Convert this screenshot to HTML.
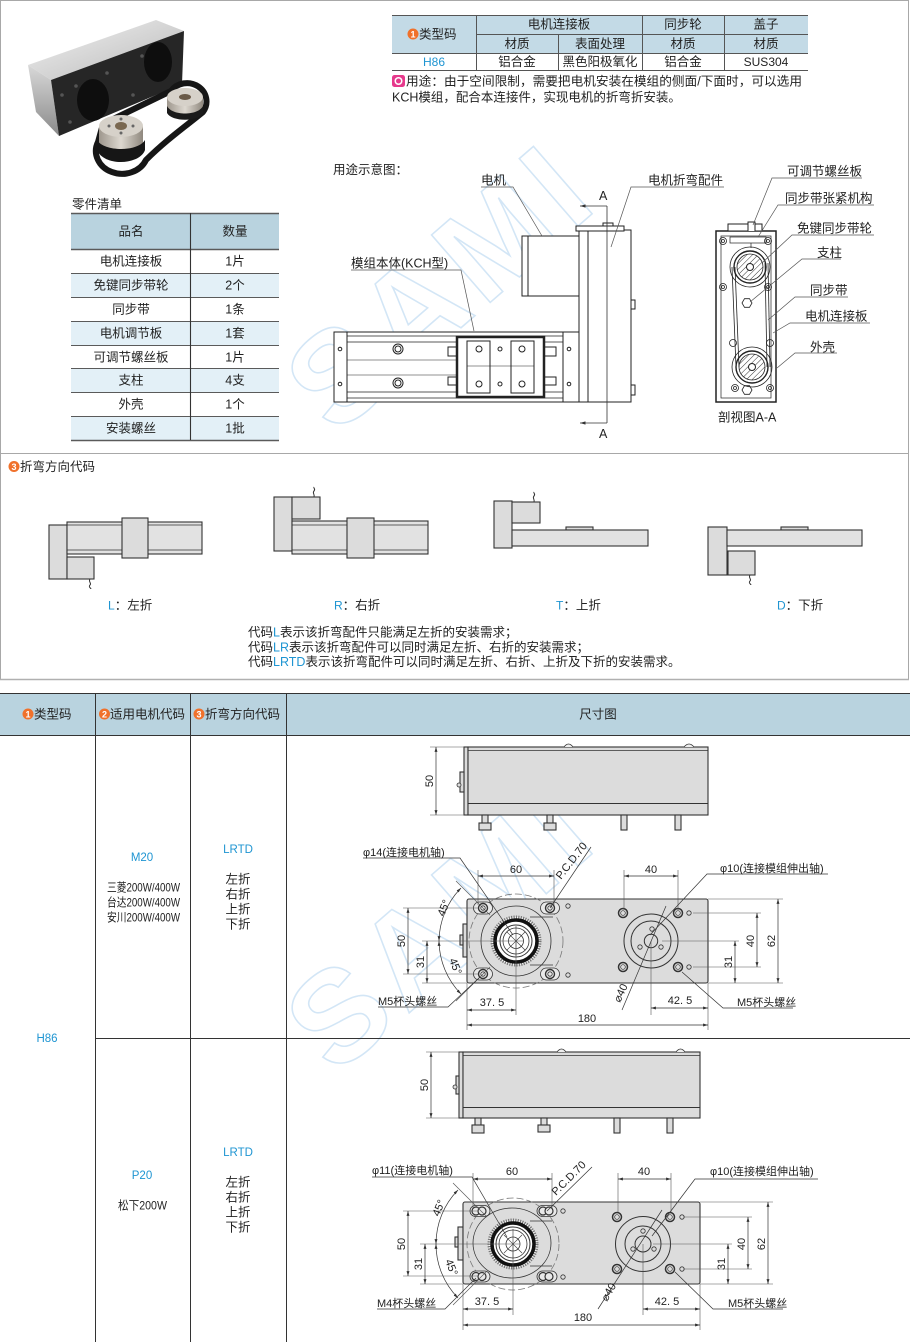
<!DOCTYPE html>
<html><head><meta charset="utf-8"><title>KCH</title>
<style>
html,body{margin:0;padding:0;background:#fff;width:910px;height:1342px;overflow:hidden}
svg{display:block}
text{font-family:"Liberation Sans","Noto Sans CJK SC",sans-serif;fill:#222}
.t{font-size:12.5px}
.d{font-size:11px}
.b{fill:#1f95d2}
.ln{stroke:#222;stroke-width:1;fill:none}
.dm{stroke:#333;stroke-width:.7;fill:none}
.ex{stroke:#555;stroke-width:.6;fill:none}
.g{fill:#dcdcdc;stroke:#333;stroke-width:1.1}
.gl{fill:#e2e2e2;stroke:#333;stroke-width:1.1}
.wm{fill:none;stroke:#d3e6f6;stroke-width:1.6;font-weight:bold;font-family:"Liberation Sans",sans-serif}
</style></head><body>
<svg width="910" height="1342" viewBox="0 0 910 1342" xmlns="http://www.w3.org/2000/svg">
<defs>
<marker id="ar" viewBox="0 0 10 10" refX="10" refY="5" markerWidth="7" markerHeight="7" orient="auto-start-reverse"><path d="M0,2 L10,5 L0,8z" fill="#333"/></marker>
<linearGradient id="gTop" x1="0" y1="0" x2="1" y2="1"><stop offset="0" stop-color="#f2f2f2"/><stop offset="1" stop-color="#b8b8b8"/></linearGradient>
<linearGradient id="gSide" x1="0" y1="0" x2="0" y2="1"><stop offset="0" stop-color="#d8d8d8"/><stop offset="1" stop-color="#8a8a8a"/></linearGradient>
<linearGradient id="gPul" x1="0" y1="0" x2="1" y2="0"><stop offset="0" stop-color="#9e978d"/><stop offset=".5" stop-color="#ddd8d0"/><stop offset="1" stop-color="#8f887e"/></linearGradient>
<pattern id="hatch" width="4" height="4" patternUnits="userSpaceOnUse" patternTransform="rotate(45)"><rect width="4" height="4" fill="#fff"/><line x1="0" y1="0" x2="0" y2="4" stroke="#333" stroke-width="1"/></pattern>
</defs>

<!-- watermarks -->
<text class="wm" font-size="130" text-anchor="middle" transform="translate(470,320) rotate(-41)" letter-spacing="8">SAMI</text>
<text class="wm" font-size="130" text-anchor="middle" transform="translate(470,960) rotate(-41)" letter-spacing="8">SAMI</text>

<!-- top frame -->
<rect x="0.5" y="0.5" width="908" height="679" fill="none" stroke="#a8a8a8"/>
<line x1="0" y1="453.5" x2="909" y2="453.5" stroke="#a8a8a8"/>
<line x1="0" y1="679.5" x2="909" y2="679.5" stroke="#b0b0b0" stroke-width="1.5"/>

<!-- product photo -->
<g>
<polygon points="28,65 156,20 184,31 51,80" fill="url(#gTop)"/>
<polygon points="28,65 51,80 59,136 36,112" fill="url(#gSide)"/>
<polygon points="51,80 184,31 182,84 59,136" fill="#262626"/>
<ellipse cx="93" cy="100" rx="16" ry="21" fill="#0e0e0e"/>
<ellipse cx="158" cy="62" rx="14" ry="20" fill="#0e0e0e"/>
<circle cx="62" cy="95" r="1.8" fill="#555"/><circle cx="70" cy="122" r="1.8" fill="#555"/>
<circle cx="107" cy="73" r="1.8" fill="#555"/><circle cx="133" cy="95" r="1.8" fill="#555"/>
<circle cx="76" cy="86" r="1.8" fill="#555"/><circle cx="142" cy="56" r="1.8" fill="#555"/>
<!-- belt loop -->
<path d="M103,124 L171,91 A18,17 0 0,1 203,112 C186,126 166,140 146,160 A24,21 0 0,1 98,142 Z" fill="none" stroke="#161616" stroke-width="6" stroke-linejoin="round"/>
<!-- pulley 2 -->
<path d="M167,97 L167,110 C172,118 198,118 203,110 L203,97 Z" fill="url(#gPul)"/>
<path d="M167,106 C172,116 198,116 203,106 L203,113 C198,122 172,122 167,113 Z" fill="#1a1a1a"/>
<ellipse cx="185" cy="97" rx="18" ry="9" fill="#d6d1c9"/>
<ellipse cx="185" cy="97" rx="6" ry="3" fill="#6a5a48"/>
<!-- pulley 1 -->
<path d="M99,126 L99,147 C106,156 136,156 143,147 L143,126 Z" fill="url(#gPul)"/>
<path d="M97,140 C104,152 138,152 145,140 L145,150 C140,165 104,167 97,150 Z" fill="#161616"/>
<ellipse cx="121" cy="126" rx="22" ry="11" fill="#d6d1c9"/>
<ellipse cx="121" cy="126" rx="6" ry="4" fill="#7a6850"/>
<circle cx="109" cy="126" r="1.5" fill="#666"/><circle cx="133" cy="126" r="1.5" fill="#666"/><circle cx="121" cy="119" r="1.5" fill="#666"/><circle cx="121" cy="133" r="1.5" fill="#666"/>
</g>

<!-- top table -->
<rect x="392" y="15" width="416" height="38" fill="#c3dae6"/>
<g stroke="#555" stroke-width="1">
<line x1="392" y1="15.5" x2="808" y2="15.5"/>
<line x1="476" y1="34.5" x2="808" y2="34.5"/>
<line x1="392" y1="53.5" x2="808" y2="53.5"/>
<line x1="392" y1="70.5" x2="808" y2="70.5"/>
<line x1="476.5" y1="15" x2="476.5" y2="70"/>
<line x1="558.5" y1="34" x2="558.5" y2="70"/>
<line x1="642.5" y1="15" x2="642.5" y2="70"/>
<line x1="724.5" y1="15" x2="724.5" y2="70"/>
</g>
<circle cx="413" cy="34" r="5.5" fill="#f0712b"/><text x="413" y="37.5" font-size="9" font-weight="bold" text-anchor="middle" style="fill:#fff">1</text>
<text class="t" x="419" y="38.5">类型码</text>
<g class="t" text-anchor="middle">
<text x="559" y="28.5">电机连接板</text><text x="683" y="28.5">同步轮</text><text x="766" y="28.5">盖子</text>
<text x="517" y="48">材质</text><text x="600" y="48">表面处理</text><text x="683" y="48">材质</text><text x="766" y="48">材质</text>
<text x="434" y="66" class="b" font-size="12">H86</text><text x="517" y="66">铝合金</text><text x="600" y="66">黑色阳极氧化</text><text x="683" y="66">铝合金</text><text x="766" y="66" font-size="12">SUS304</text>
</g>
<rect x="392" y="75" width="13" height="12" rx="2.5" fill="#e6398c"/><circle cx="398.5" cy="81" r="4" fill="#fff"/><circle cx="398.5" cy="81" r="2.5" fill="#e6398c"/>
<text class="t" x="406" y="85.5" textLength="396" lengthAdjust="spacingAndGlyphs">用途：由于空间限制，需要把电机安装在模组的侧面/下面时，可以选用</text>
<text class="t" x="392" y="101.5">KCH模组，配合本连接件，实现电机的折弯折安装。</text>

<!-- parts list -->
<text class="t" x="72" y="208.5">零件清单</text>
<rect x="71" y="213" width="208" height="36" fill="#b9d3df"/>
<g fill="#e3f0f7"><rect x="71" y="273" width="208" height="24"/><rect x="71" y="321" width="208" height="24"/><rect x="71" y="368" width="208" height="24"/><rect x="71" y="416" width="208" height="24"/></g>
<g stroke="#5a5a5a" stroke-width="1.1">
<line x1="71" y1="213.5" x2="279" y2="213.5" stroke-width="1.5"/><line x1="71" y1="249.5" x2="279" y2="249.5" stroke-width="1.5"/>
<line x1="71" y1="273.5" x2="279" y2="273.5"/><line x1="71" y1="297.5" x2="279" y2="297.5"/><line x1="71" y1="321.5" x2="279" y2="321.5"/>
<line x1="71" y1="345.5" x2="279" y2="345.5"/><line x1="71" y1="368.5" x2="279" y2="368.5"/><line x1="71" y1="392.5" x2="279" y2="392.5"/>
<line x1="71" y1="416.5" x2="279" y2="416.5"/><line x1="71" y1="440.5" x2="279" y2="440.5" stroke-width="1.5"/>
<line x1="190.5" y1="213" x2="190.5" y2="440" stroke="#333"/>
</g>
<g class="t" text-anchor="middle">
<text x="131" y="235.5">品名</text><text x="235" y="235.5">数量</text>
<text x="131" y="265.5">电机连接板</text><text x="235" y="265.5">1片</text>
<text x="131" y="289.5">免键同步带轮</text><text x="235" y="289.5">2个</text>
<text x="131" y="313.5">同步带</text><text x="235" y="313.5">1条</text>
<text x="131" y="337.5">电机调节板</text><text x="235" y="337.5">1套</text>
<text x="131" y="361.5">可调节螺丝板</text><text x="235" y="361.5">1片</text>
<text x="131" y="384.5">支柱</text><text x="235" y="384.5">4支</text>
<text x="131" y="408.5">外壳</text><text x="235" y="408.5">1个</text>
<text x="131" y="432.5">安装螺丝</text><text x="235" y="432.5">1批</text>
</g>

<!-- usage diagram -->
<text class="t" x="333" y="174">用途示意图：</text>
<g class="ln">
<rect x="334" y="332" width="245" height="70" fill="#fff"/>
<line x1="347" y1="332" x2="347" y2="402"/><line x1="563" y1="332" x2="563" y2="402"/>
<line x1="347" y1="336" x2="563" y2="336" stroke-width=".7"/><line x1="347" y1="342" x2="563" y2="342" stroke-width=".7"/>
<line x1="347" y1="360" x2="457" y2="360" stroke-width=".6"/><line x1="347" y1="375" x2="457" y2="375" stroke-width=".6"/>
<line x1="347" y1="392" x2="563" y2="392" stroke-width=".7"/><line x1="347" y1="398" x2="563" y2="398" stroke-width=".7"/>
<circle cx="398" cy="349" r="5"/><circle cx="398" cy="349" r="3"/>
<circle cx="398" cy="383" r="5"/><circle cx="398" cy="383" r="3"/>
<circle cx="340" cy="349" r="1.8"/><circle cx="340" cy="384" r="1.8"/>
<circle cx="569" cy="349" r="1.8"/><circle cx="569" cy="384" r="1.8"/>
<rect x="448" y="347" width="9" height="9"/><rect x="448" y="377" width="9" height="8"/>
<rect x="544" y="347" width="12" height="9"/><rect x="544" y="377" width="12" height="8"/>
<rect x="457" y="337" width="87" height="60" stroke-width="2.5" fill="#fff"/>
<rect x="467" y="341" width="23" height="52"/><rect x="511" y="341" width="23" height="52"/>
<line x1="467" y1="366" x2="534" y2="366" stroke-width=".6"/>
<circle cx="479" cy="349" r="3"/><circle cx="522" cy="349" r="3"/><circle cx="479" cy="384" r="3"/><circle cx="522" cy="384" r="3"/>
<circle cx="500" cy="349" r="2"/><circle cx="500" cy="384" r="2"/>
<rect x="579" y="230" width="52" height="172" fill="#fff"/>
<line x1="588" y1="230" x2="588" y2="402"/>
<rect x="576" y="226" width="48" height="5" fill="#fff"/>
<path d="M603,226 v-3 h10 v3"/>
<rect x="631" y="300" width="4" height="9"/><rect x="631" y="385" width="4" height="10"/>
<rect x="522" y="236" width="57" height="60" fill="#fff"/>
<line x1="528" y1="236" x2="528" y2="296"/>
</g>
<g stroke="#333" stroke-width=".8" fill="none">
<line x1="607" y1="206" x2="607" y2="423"/>
<line x1="607" y1="206" x2="580" y2="206" marker-end="url(#ar)"/>
<line x1="607" y1="423" x2="580" y2="423" marker-end="url(#ar)"/>
</g>
<text class="t" x="599" y="200">A</text><text class="t" x="599" y="438">A</text>
<text class="t" x="481" y="184.5">电机</text>
<text class="t" x="648" y="184.5">电机折弯配件</text>
<text class="t" x="351" y="267.5">模组本体(KCH型)</text>
<g stroke="#555" stroke-width=".7" fill="none">
<polyline points="481,187 513,187 542,236"/>
<polyline points="724,187 631,187 611,247"/>
<polyline points="351,270 461,270 474,331"/>
</g>

<!-- section view A-A -->
<g class="ln">
<rect x="716" y="231" width="60" height="171" stroke-width="1.5" fill="#fff"/>
<rect x="721" y="236" width="50" height="162" stroke-width=".7"/>
<rect x="728" y="224" width="34" height="7" fill="#fff"/>
<path d="M748,231 v-9 h7 v9" fill="#fff"/>
<rect x="730" y="237" width="36" height="6" stroke-width=".7"/>
<line x1="751" y1="243" x2="751" y2="248" stroke-width=".7"/>
<circle cx="750" cy="267" r="20" stroke-width=".8"/>
<circle cx="750" cy="267" r="16" stroke-width="1.4"/>
<circle cx="750" cy="267" r="13" fill="url(#hatch)" stroke-width=".8"/>
<circle cx="750" cy="267" r="3.5" fill="#fff"/>
<circle cx="752" cy="367" r="20" stroke-width=".8"/>
<circle cx="752" cy="367" r="16" stroke-width="1.4"/>
<circle cx="752" cy="367" r="13" fill="url(#hatch)" stroke-width=".8"/>
<circle cx="752" cy="367" r="3.5" fill="#fff"/>
<line x1="732" y1="267" x2="736" y2="367" stroke-width=".8"/><line x1="735" y1="267" x2="739" y2="367" stroke-width=".8"/>
<line x1="765" y1="263" x2="767" y2="367" stroke-width=".8"/><line x1="768" y1="263" x2="770" y2="367" stroke-width=".8"/>
<g stroke-width=".8">
<circle cx="723" cy="241" r="3.5"/><circle cx="723" cy="241" r="1.5"/>
<circle cx="768" cy="241" r="3.5"/><circle cx="768" cy="241" r="1.5"/>
<circle cx="723" cy="287" r="3.5"/><circle cx="723" cy="287" r="1.5"/>
<circle cx="768" cy="287" r="3.5"/><circle cx="768" cy="287" r="1.5"/>
<circle cx="733" cy="343" r="3.5"/><circle cx="770" cy="343" r="3.5"/>
<circle cx="735" cy="388" r="3.5"/><circle cx="735" cy="388" r="1.5"/>
<circle cx="770" cy="388" r="3.5"/><circle cx="770" cy="388" r="1.5"/>
<polygon points="742,303 744.5,298.7 749.5,298.7 752,303 749.5,307.3 744.5,307.3"/>
<polygon points="742,390 744.5,385.7 749.5,385.7 752,390 749.5,394.3 744.5,394.3"/>
</g>
</g>
<g class="t">
<text x="787" y="175.5">可调节螺丝板</text>
<text x="785" y="202.5">同步带张紧机构</text>
<text x="797" y="232.5">免键同步带轮</text>
<text x="817" y="257">支柱</text>
<text x="810" y="294.5">同步带</text>
<text x="805" y="320.5">电机连接板</text>
<text x="810" y="351.5">外壳</text>
<text x="718" y="421.5">剖视图A-A</text>
</g>
<g stroke="#555" stroke-width=".7" fill="none">
<polyline points="862,178 772,178 753,225"/>
<polyline points="874,205 778,205 758,237"/>
<polyline points="874,235 792,235 762,263"/>
<polyline points="841,259 802,259 750,302"/>
<polyline points="848,297 795,297 768,320"/>
<polyline points="870,323 790,323 773,333"/>
<polyline points="837,353 795,353 777,368"/>
</g>

<!-- bend direction codes -->
<circle cx="14" cy="466.5" r="5.5" fill="#f0712b"/><text x="14" y="470" font-size="9" font-weight="bold" text-anchor="middle" style="fill:#fff">3</text>
<text class="t" x="20" y="471">折弯方向代码</text>

<!-- L -->
<g>
<rect class="g" x="49" y="525" width="18" height="54"/>
<rect class="gl" x="67" y="522" width="135" height="32"/>
<line x1="67" y1="525" x2="202" y2="525" stroke="#333" stroke-width=".8"/>
<line x1="67" y1="550" x2="202" y2="550" stroke="#333" stroke-width=".8"/>
<rect class="g" x="122" y="518" width="26" height="40"/>
<rect class="g" x="67" y="557" width="27" height="22"/>
<path d="M90,579 c-2,3 2,4 0,6 c-2,2 1,3 1,4" stroke="#333" stroke-width="1" fill="none"/>
</g>
<!-- R -->
<g>
<rect class="g" x="274" y="497" width="18" height="54"/>
<rect class="g" x="292" y="497" width="28" height="22"/>
<path d="M314,497 c1,-3 -2,-4 0,-6 c2,-2 -1,-3 0,-4" stroke="#333" stroke-width="1" fill="none"/>
<rect class="gl" x="292" y="521" width="136" height="33"/>
<line x1="292" y1="525" x2="428" y2="525" stroke="#333" stroke-width=".8"/>
<line x1="292" y1="550" x2="428" y2="550" stroke="#333" stroke-width=".8"/>
<rect class="g" x="347" y="518" width="27" height="40"/>
</g>
<!-- T -->
<g>
<rect class="g" x="494" y="501" width="18" height="47"/>
<rect class="g" x="512" y="502" width="28" height="21"/>
<path d="M534,502 c1,-3 -2,-4 0,-6 c2,-2 -1,-3 0,-4" stroke="#333" stroke-width="1" fill="none"/>
<rect class="g" x="566" y="527" width="27" height="3"/>
<rect class="gl" x="512" y="530" width="136" height="16"/>
</g>
<!-- D -->
<g>
<rect class="g" x="708" y="527" width="19" height="48"/>
<rect class="g" x="781" y="527" width="27" height="3"/>
<rect class="gl" x="727" y="530" width="135" height="16"/>
<rect class="g" x="728" y="551" width="27" height="24"/>
<path d="M750,575 c-2,3 2,4 0,6 c-2,2 1,3 1,4" stroke="#333" stroke-width="1" fill="none"/>
</g>
<g class="t">
<text x="108" y="609.5"><tspan class="b" font-size="12">L</tspan>：左折</text>
<text x="334" y="609.5"><tspan class="b" font-size="12">R</tspan>：右折</text>
<text x="556" y="609.5"><tspan class="b" font-size="12">T</tspan>：上折</text>
<text x="777" y="609.5"><tspan class="b" font-size="12">D</tspan>：下折</text>
<text x="248" y="636.5">代码<tspan class="b">L</tspan>表示该折弯配件只能满足左折的安装需求；</text>
<text x="248" y="651.5">代码<tspan class="b">LR</tspan>表示该折弯配件可以同时满足左折、右折的安装需求；</text>
<text x="248" y="666">代码<tspan class="b">LRTD</tspan>表示该折弯配件可以同时满足左折、右折、上折及下折的安装需求。</text>
</g>

<!-- bottom table -->
<rect x="0" y="693" width="910" height="42" fill="#b9d3df"/>
<g stroke="#333" stroke-width="1">
<line x1="0" y1="693.5" x2="910" y2="693.5"/>
<line x1="0" y1="735.5" x2="910" y2="735.5"/>
<line x1="95.5" y1="693" x2="95.5" y2="1342"/>
<line x1="190.5" y1="693" x2="190.5" y2="1342"/>
<line x1="286.5" y1="693" x2="286.5" y2="1342"/>
<line x1="95" y1="1038.5" x2="910" y2="1038.5"/>
</g>
<circle cx="28" cy="714" r="5.5" fill="#f0712b"/><text x="28" y="717.5" font-size="9" font-weight="bold" text-anchor="middle" style="fill:#fff">1</text>
<text class="t" x="34" y="718.5">类型码</text>
<circle cx="104.5" cy="714" r="5.5" fill="#f0712b"/><text x="104.5" y="717.5" font-size="9" font-weight="bold" text-anchor="middle" style="fill:#fff">2</text>
<text class="t" x="110" y="718.5">适用电机代码</text>
<circle cx="199" cy="714" r="5.5" fill="#f0712b"/><text x="199" y="717.5" font-size="9" font-weight="bold" text-anchor="middle" style="fill:#fff">3</text>
<text class="t" x="205" y="718.5">折弯方向代码</text>
<text class="t" x="598" y="718.5" text-anchor="middle">尺寸图</text>

<text class="b" font-size="11.5" x="47" y="1042" text-anchor="middle">H86</text>
<text class="b" font-size="11.5" x="142" y="861" text-anchor="middle">M20</text>
<g font-size="12" text-anchor="middle">
<text x="143.5" y="891.5" textLength="73" lengthAdjust="spacingAndGlyphs">三菱200W/400W</text>
<text x="143.5" y="906.5" textLength="73" lengthAdjust="spacingAndGlyphs">台达200W/400W</text>
<text x="143.5" y="921.5" textLength="73" lengthAdjust="spacingAndGlyphs">安川200W/400W</text>
</g>
<text class="b" font-size="11.5" x="238" y="853" text-anchor="middle">LRTD</text>
<g class="t" text-anchor="middle">
<text x="238" y="883.5">左折</text><text x="238" y="898.5">右折</text><text x="238" y="913.5">上折</text><text x="238" y="928.5">下折</text>
</g>
<text class="b" font-size="11.5" x="142" y="1179" text-anchor="middle">P20</text>
<text x="142.5" y="1209.5" font-size="12" text-anchor="middle" textLength="49" lengthAdjust="spacingAndGlyphs">松下200W</text>
<text class="b" font-size="11.5" x="238" y="1156" text-anchor="middle">LRTD</text>
<g class="t" text-anchor="middle">
<text x="238" y="1186.5">左折</text><text x="238" y="1201.5">右折</text><text x="238" y="1216.5">上折</text><text x="238" y="1231.5">下折</text>
</g>

<!-- ===== Drawing 1 side view ===== -->
<g>
<rect class="g" x="464" y="747" width="4" height="68"/>
<rect class="g" x="460" y="772" width="4" height="20"/>
<circle cx="459" cy="785" r="2" fill="#ddd" stroke="#333" stroke-width=".8"/>
<rect class="g" x="468" y="747" width="240" height="68"/>
<line x1="468" y1="750.5" x2="708" y2="750.5" stroke="#333" stroke-width=".8"/>
<line x1="468" y1="803.5" x2="708" y2="803.5" stroke="#333" stroke-width="1"/>
<path d="M564,747 q4.5,-6 9,0" fill="#eee" stroke="#333" stroke-width=".8"/>
<path d="M684,747 q5,-6 10,0" fill="#eee" stroke="#333" stroke-width=".8"/>
<rect class="g" x="482" y="815" width="6" height="9"/><rect class="g" x="479" y="823" width="12" height="7"/>
<rect class="g" x="547" y="815" width="6" height="9"/><rect class="g" x="544" y="823" width="12" height="7"/>
<rect class="g" x="621" y="815" width="6" height="15"/>
<rect class="g" x="675" y="815" width="6" height="15"/>
</g>
<g class="ex"><line x1="430" y1="747" x2="464" y2="747"/><line x1="430" y1="815" x2="464" y2="815"/></g>
<line class="dm" x1="436" y1="747" x2="436" y2="815" marker-start="url(#ar)" marker-end="url(#ar)"/>
<text class="d" text-anchor="middle" transform="translate(433,781) rotate(-90)">50</text>

<!-- ===== Drawing 1 plan ===== -->
<g>
<rect class="g" x="463" y="924" width="4" height="33"/>
<rect class="g" x="460" y="935" width="3" height="10"/>
<rect class="g" x="467" y="899" width="241" height="84" rx="2"/>
<g fill="none" stroke="#333">
<circle cx="516" cy="941" r="47" stroke="#777" stroke-width=".8" stroke-dasharray="7 3"/>
<circle cx="516" cy="941" r="35" stroke-width=".8"/>
<line x1="530" y1="917" x2="553" y2="917" stroke-width=".8"/>
<line x1="530" y1="965" x2="553" y2="965" stroke-width=".8"/>
<circle cx="516" cy="941" r="24" stroke="#777" stroke-width="3" stroke-dasharray="1.2 1.2" fill="#fff"/>
<circle cx="516" cy="941" r="21" stroke="#111" stroke-width="3.5"/>
<circle cx="516" cy="941" r="16" stroke-width="1"/>
<circle cx="516" cy="941" r="13" stroke-width=".8"/>
<circle cx="516" cy="941" r="7.5" stroke-width=".8"/>
<line x1="507" y1="932" x2="525" y2="950" stroke-width=".6"/><line x1="525" y1="932" x2="507" y2="950" stroke-width=".6"/>
<line x1="516" y1="926" x2="516" y2="956" stroke-width=".6"/>
</g>
<g stroke="#333" fill="#e8e8e8">
<rect x="473.5" y="902" width="19" height="12" rx="6" stroke-width=".8"/><circle cx="483" cy="908" r="4.5" stroke-width="1.4"/><circle cx="483" cy="908" r="2.2" stroke-width=".8"/>
<rect x="540.5" y="902" width="19" height="12" rx="6" stroke-width=".8"/><circle cx="550" cy="908" r="4.5" stroke-width="1.4"/><circle cx="550" cy="908" r="2.2" stroke-width=".8"/>
<rect x="473.5" y="968" width="19" height="12" rx="6" stroke-width=".8"/><circle cx="483" cy="974" r="4.5" stroke-width="1.4"/><circle cx="483" cy="974" r="2.2" stroke-width=".8"/>
<rect x="540.5" y="968" width="19" height="12" rx="6" stroke-width=".8"/><circle cx="550" cy="974" r="4.5" stroke-width="1.4"/><circle cx="550" cy="974" r="2.2" stroke-width=".8"/>
<circle cx="568" cy="906" r="2.2" stroke-width=".8" fill="none"/><circle cx="568" cy="975" r="2.2" stroke-width=".8" fill="none"/>
</g>
<g fill="none" stroke="#333">
<circle cx="651" cy="941" r="27" stroke-width="1"/>
<circle cx="651" cy="941" r="20" stroke-width="1"/>
<circle cx="651" cy="941" r="6.7" stroke-width="1"/>
<circle cx="652" cy="929" r="2.2" stroke-width=".8"/><circle cx="640" cy="947" r="2.2" stroke-width=".8"/><circle cx="661" cy="947" r="2.2" stroke-width=".8"/>
<circle cx="623" cy="913" r="4.5" stroke-width="1.5"/><circle cx="623" cy="913" r="2.3" stroke-width=".7"/>
<circle cx="678" cy="913" r="4.5" stroke-width="1.5"/><circle cx="678" cy="913" r="2.3" stroke-width=".7"/>
<circle cx="623" cy="967" r="4.5" stroke-width="1.5"/><circle cx="623" cy="967" r="2.3" stroke-width=".7"/>
<circle cx="678" cy="967" r="4.5" stroke-width="1.5"/><circle cx="678" cy="967" r="2.3" stroke-width=".7"/>
<circle cx="689" cy="913" r="2.2" stroke-width=".8"/><circle cx="689" cy="967" r="2.2" stroke-width=".8"/>
</g>
</g>
<!-- dims drawing 1 plan -->
<g class="ex">
<line x1="478" y1="870" x2="478" y2="905"/><line x1="554" y1="870" x2="554" y2="905"/>
<line x1="403" y1="908" x2="478" y2="908"/><line x1="403" y1="974" x2="478" y2="974"/>
<line x1="422" y1="941" x2="523" y2="941"/><line x1="422" y1="983" x2="467" y2="983"/>
<line x1="467" y1="983" x2="467" y2="1030"/><line x1="516" y1="941" x2="516" y2="1015"/>
<line x1="708" y1="983" x2="708" y2="1030"/>
<line x1="624" y1="870" x2="624" y2="910"/><line x1="678" y1="870" x2="678" y2="910"/>
<line x1="708" y1="899" x2="783" y2="899"/><line x1="708" y1="983" x2="783" y2="983"/>
<line x1="693" y1="913" x2="761" y2="913"/><line x1="693" y1="967" x2="761" y2="967"/>
<line x1="662" y1="941" x2="739" y2="941"/>
<line x1="651" y1="941" x2="651" y2="1015"/>
<line x1="456" y1="881" x2="490" y2="915"/><line x1="456" y1="1001" x2="490" y2="967"/>
</g>
<g class="dm">
<line x1="478" y1="876" x2="554" y2="876" marker-start="url(#ar)" marker-end="url(#ar)"/>
<line x1="408" y1="908" x2="408" y2="974" marker-start="url(#ar)" marker-end="url(#ar)"/>
<line x1="427" y1="941" x2="427" y2="983" marker-start="url(#ar)" marker-end="url(#ar)"/>
<line x1="467" y1="1010" x2="516" y2="1010" marker-start="url(#ar)" marker-end="url(#ar)"/>
<line x1="467" y1="1025" x2="708" y2="1025" marker-start="url(#ar)" marker-end="url(#ar)"/>
<line x1="624" y1="876" x2="678" y2="876" marker-start="url(#ar)" marker-end="url(#ar)"/>
<line x1="778" y1="899" x2="778" y2="983" marker-start="url(#ar)" marker-end="url(#ar)"/>
<line x1="757" y1="913" x2="757" y2="967" marker-start="url(#ar)" marker-end="url(#ar)"/>
<line x1="735" y1="941" x2="735" y2="983" marker-start="url(#ar)" marker-end="url(#ar)"/>
<line x1="651" y1="1008" x2="708" y2="1008" marker-start="url(#ar)" marker-end="url(#ar)"/>
<path d="M461,888 A77,77 0 0,0 439,941" marker-start="url(#ar)" marker-end="url(#ar)"/>
<path d="M439,941 A77,77 0 0,0 461,994" marker-start="url(#ar)" marker-end="url(#ar)"/>
<polyline points="363,858 460,858 513,935"/>
<line x1="550" y1="908" x2="591" y2="847"/>
<polyline points="378,1007 448,1007 480,977"/>
<polyline points="828,874 707,874 650,935"/>
<line x1="622" y1="1010" x2="666" y2="906"/>
<polyline points="793,1008 723,1008 682,972"/>
</g>
<g class="d">
<text x="516" y="873" text-anchor="middle">60</text>
<text x="651" y="873" text-anchor="middle">40</text>
<text x="363" y="856">φ14(连接电机轴)</text>
<text x="720" y="872">φ10(连接模组伸出轴)</text>
<text transform="translate(561,880) rotate(-52)">P.C.D.70</text>
<text transform="translate(444,917) rotate(-68)">45°</text>
<text transform="translate(449,960) rotate(68)">45°</text>
<text text-anchor="middle" transform="translate(405,941) rotate(-90)">50</text>
<text text-anchor="middle" transform="translate(424,962) rotate(-90)">31</text>
<text text-anchor="middle" transform="translate(775,941) rotate(-90)">62</text>
<text text-anchor="middle" transform="translate(754,941) rotate(-90)">40</text>
<text text-anchor="middle" transform="translate(732,962) rotate(-90)">31</text>
<text transform="translate(620,1003) rotate(-65)">⌀40</text>
<text x="378" y="1005">M5杯头螺丝</text>
<text x="737" y="1006">M5杯头螺丝</text>
<text x="492" y="1006" text-anchor="middle">37. 5</text>
<text x="680" y="1004" text-anchor="middle">42. 5</text>
<text x="587" y="1022" text-anchor="middle">180</text>
</g>

<!-- ===== Drawing 2 side view ===== -->
<g>
<rect class="g" x="459" y="1052" width="4" height="66"/>
<rect class="g" x="456" y="1076" width="3" height="18"/>
<circle cx="455" cy="1087" r="2" fill="#ddd" stroke="#333" stroke-width=".8"/>
<rect class="g" x="463" y="1052" width="237" height="66"/>
<line x1="463" y1="1055.5" x2="700" y2="1055.5" stroke="#333" stroke-width=".8"/>
<line x1="463" y1="1107.5" x2="700" y2="1107.5" stroke="#333" stroke-width="1"/>
<path d="M557,1052 q4.5,-6 9,0" fill="#eee" stroke="#333" stroke-width=".8"/>
<path d="M676,1052 q4.5,-6 9,0" fill="#eee" stroke="#333" stroke-width=".8"/>
<rect class="g" x="475" y="1118" width="6" height="8"/><rect class="g" x="472" y="1125" width="12" height="8"/>
<rect class="g" x="541" y="1118" width="6" height="8"/><rect class="g" x="538" y="1125" width="12" height="7"/>
<rect class="g" x="614" y="1118" width="6" height="15"/>
<rect class="g" x="667" y="1118" width="6" height="15"/>
</g>
<g class="ex"><line x1="426" y1="1052" x2="459" y2="1052"/><line x1="426" y1="1118" x2="459" y2="1118"/></g>
<line class="dm" x1="431" y1="1052" x2="431" y2="1118" marker-start="url(#ar)" marker-end="url(#ar)"/>
<text class="d" text-anchor="middle" transform="translate(428,1085) rotate(-90)">50</text>

<!-- ===== Drawing 2 plan ===== -->
<g>
<rect class="g" x="458" y="1227" width="5" height="33"/>
<rect class="g" x="455" y="1237" width="3" height="10"/>
<rect class="g" x="463" y="1202" width="237" height="82" rx="2"/>
<g fill="none" stroke="#333">
<circle cx="513" cy="1244" r="46" stroke="#777" stroke-width=".8" stroke-dasharray="7 3"/>
<ellipse cx="512" cy="1243" rx="39" ry="35" stroke-width=".8"/>
<line x1="530" y1="1221" x2="552" y2="1221" stroke-width=".8"/>
<line x1="530" y1="1266" x2="552" y2="1266" stroke-width=".8"/>
<circle cx="513" cy="1244" r="24" stroke="#777" stroke-width="3" stroke-dasharray="1.2 1.2" fill="#fff"/>
<circle cx="513" cy="1244" r="21" stroke="#111" stroke-width="3.5"/>
<circle cx="513" cy="1244" r="17" stroke-width="1"/>
<circle cx="513" cy="1244" r="14" stroke-width=".8"/>
<circle cx="513" cy="1244" r="7" stroke-width=".8"/>
<line x1="504" y1="1235" x2="522" y2="1253" stroke-width=".6"/><line x1="522" y1="1235" x2="504" y2="1253" stroke-width=".6"/>
<line x1="513" y1="1229" x2="513" y2="1259" stroke-width=".6"/>
</g>
<g stroke="#333" fill="#e8e8e8">
<rect x="470" y="1205.5" width="20" height="11" rx="5.5" stroke-width=".8"/><circle cx="476" cy="1211" r="4" stroke-width="1.2"/><circle cx="482" cy="1211" r="4" stroke-width="1.2"/>
<rect x="537" y="1205.5" width="20" height="11" rx="5.5" stroke-width=".8"/><circle cx="543" cy="1211" r="4" stroke-width="1.2"/><circle cx="549" cy="1211" r="4" stroke-width="1.2"/>
<rect x="470" y="1271" width="20" height="11" rx="5.5" stroke-width=".8"/><circle cx="476" cy="1276.5" r="4" stroke-width="1.2"/><circle cx="482" cy="1276.5" r="4" stroke-width="1.2"/>
<rect x="537" y="1271" width="20" height="11" rx="5.5" stroke-width=".8"/><circle cx="543" cy="1276.5" r="4" stroke-width="1.2"/><circle cx="549" cy="1276.5" r="4" stroke-width="1.2"/>
<circle cx="563" cy="1211" r="2.2" stroke-width=".8" fill="none"/><circle cx="563" cy="1277" r="2.2" stroke-width=".8" fill="none"/>
</g>
<g fill="none" stroke="#333">
<circle cx="643" cy="1244" r="27.5" stroke-width="1"/>
<circle cx="643" cy="1244" r="18" stroke-width="1"/>
<circle cx="643" cy="1244" r="8" stroke-width="1"/>
<circle cx="643" cy="1231" r="2.2" stroke-width=".8"/><circle cx="633" cy="1249" r="2.2" stroke-width=".8"/><circle cx="654" cy="1249" r="2.2" stroke-width=".8"/>
<circle cx="617" cy="1217" r="4.5" stroke-width="1.5"/><circle cx="617" cy="1217" r="2.3" stroke-width=".7"/>
<circle cx="670" cy="1217" r="4.5" stroke-width="1.5"/><circle cx="670" cy="1217" r="2.3" stroke-width=".7"/>
<circle cx="617" cy="1269" r="4.5" stroke-width="1.5"/><circle cx="617" cy="1269" r="2.3" stroke-width=".7"/>
<circle cx="670" cy="1269" r="4.5" stroke-width="1.5"/><circle cx="670" cy="1269" r="2.3" stroke-width=".7"/>
<circle cx="682" cy="1217" r="2.2" stroke-width=".8"/><circle cx="682" cy="1269" r="2.2" stroke-width=".8"/>
</g>
</g>
<g class="ex">
<line x1="473" y1="1173" x2="473" y2="1208"/><line x1="552" y1="1173" x2="552" y2="1208"/>
<line x1="403" y1="1211" x2="478" y2="1211"/><line x1="403" y1="1276" x2="478" y2="1276"/>
<line x1="420" y1="1244" x2="520" y2="1244"/><line x1="420" y1="1284" x2="463" y2="1284"/>
<line x1="463" y1="1284" x2="463" y2="1330"/><line x1="513" y1="1244" x2="513" y2="1315"/>
<line x1="700" y1="1284" x2="700" y2="1330"/>
<line x1="618" y1="1173" x2="618" y2="1212"/><line x1="671" y1="1173" x2="671" y2="1212"/>
<line x1="700" y1="1202" x2="773" y2="1202"/><line x1="700" y1="1284" x2="773" y2="1284"/>
<line x1="683" y1="1217" x2="752" y2="1217"/><line x1="683" y1="1269" x2="752" y2="1269"/>
<line x1="653" y1="1244" x2="732" y2="1244"/>
<line x1="643" y1="1244" x2="643" y2="1315"/>
<line x1="453" y1="1183" x2="487" y2="1217"/><line x1="453" y1="1305" x2="487" y2="1271"/>
</g>
<g class="dm">
<line x1="473" y1="1179" x2="552" y2="1179" marker-start="url(#ar)" marker-end="url(#ar)"/>
<line x1="408" y1="1211" x2="408" y2="1276" marker-start="url(#ar)" marker-end="url(#ar)"/>
<line x1="425" y1="1244" x2="425" y2="1284" marker-start="url(#ar)" marker-end="url(#ar)"/>
<line x1="463" y1="1309" x2="513" y2="1309" marker-start="url(#ar)" marker-end="url(#ar)"/>
<line x1="463" y1="1325" x2="700" y2="1325" marker-start="url(#ar)" marker-end="url(#ar)"/>
<line x1="618" y1="1179" x2="671" y2="1179" marker-start="url(#ar)" marker-end="url(#ar)"/>
<line x1="768" y1="1202" x2="768" y2="1284" marker-start="url(#ar)" marker-end="url(#ar)"/>
<line x1="748" y1="1217" x2="748" y2="1269" marker-start="url(#ar)" marker-end="url(#ar)"/>
<line x1="728" y1="1244" x2="728" y2="1284" marker-start="url(#ar)" marker-end="url(#ar)"/>
<line x1="643" y1="1309" x2="700" y2="1309" marker-start="url(#ar)" marker-end="url(#ar)"/>
<path d="M458,1190 A77,77 0 0,0 436,1244" marker-start="url(#ar)" marker-end="url(#ar)"/>
<path d="M436,1244 A77,77 0 0,0 458,1298" marker-start="url(#ar)" marker-end="url(#ar)"/>
<polyline points="372,1177 472,1177 507,1237"/>
<line x1="547" y1="1211" x2="592" y2="1167"/>
<polyline points="377,1309 445,1309 476,1278"/>
<polyline points="818,1179 695,1179 652,1236"/>
<line x1="598" y1="1309" x2="662" y2="1210"/>
<polyline points="783,1309 713,1309 675,1272"/>
</g>
<g class="d">
<text x="512" y="1175" text-anchor="middle">60</text>
<text x="644" y="1175" text-anchor="middle">40</text>
<text x="372" y="1174">φ11(连接电机轴)</text>
<text x="710" y="1175">φ10(连接模组伸出轴)</text>
<text transform="translate(556,1196) rotate(-45)">P.C.D.70</text>
<text transform="translate(439,1217) rotate(-68)">45°</text>
<text transform="translate(445,1261) rotate(68)">45°</text>
<text text-anchor="middle" transform="translate(405,1244) rotate(-90)">50</text>
<text text-anchor="middle" transform="translate(422,1264) rotate(-90)">31</text>
<text text-anchor="middle" transform="translate(765,1244) rotate(-90)">62</text>
<text text-anchor="middle" transform="translate(745,1244) rotate(-90)">40</text>
<text text-anchor="middle" transform="translate(725,1264) rotate(-90)">31</text>
<text transform="translate(607,1302) rotate(-60)">⌀40</text>
<text x="377" y="1307">M4杯头螺丝</text>
<text x="728" y="1307">M5杯头螺丝</text>
<text x="487" y="1305" text-anchor="middle">37. 5</text>
<text x="667" y="1305" text-anchor="middle">42. 5</text>
<text x="583" y="1321" text-anchor="middle">180</text>
</g>
</svg>
</body></html>
